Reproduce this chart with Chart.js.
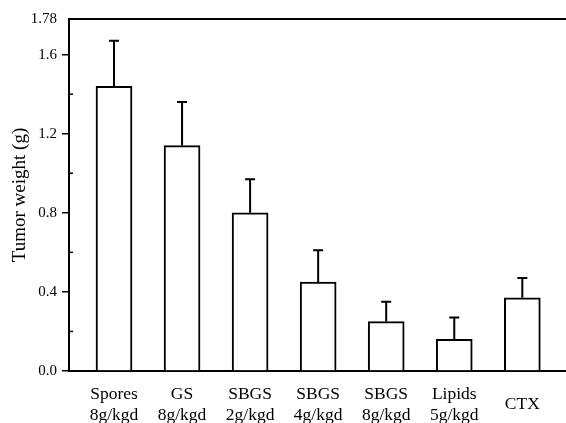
<!DOCTYPE html>
<html>
<head>
<meta charset="utf-8">
<script src="https://cdn.jsdelivr.net/npm/chart.js@4/dist/chart.umd.min.js"></script>
<style>
  body { margin: 0; background: #fff; }
  #wrap { width: 566px; height: 423px; }
</style>
</head>
<body>
<div id="wrap"><canvas id="chart"></canvas></div>
<script>
// groups and measured tumor weight (g), upper error bar
const groups = [
  ['Spores', '8g/kgd'],
  ['GS', '8g/kgd'],
  ['SBGS', '2g/kgd'],
  ['SBGS', '4g/kgd'],
  ['SBGS', '8g/kgd'],
  ['Lipids', '5g/kgd'],
  ['CTX']
];
const weights = [1.44, 1.14, 0.80, 0.45, 0.25, 0.16, 0.37];
const errors = [0.23, 0.22, 0.17, 0.16, 0.10, 0.11, 0.10];

const yTicks = [0, 0.4, 0.8, 1.2, 1.6, 1.78];
const yTickLabels = ['0.0', '0.4', '0.8', '1.2', '1.6', '1.78'];
const yMinorTicks = [0.2, 0.6, 1.0, 1.4];

const serif = 'Liberation Serif';

// error bars + minor ticks pointing inward
const extras = {
  id: 'extras',
  afterDatasetsDraw(chart) {
    const ctx = chart.ctx;
    const x = chart.scales.x;
    const y = chart.scales.y;
    ctx.save();
    ctx.strokeStyle = '#000';
    ctx.lineWidth = 2;
    weights.forEach((w, i) => {
      const px = x.getPixelForValue(i + 1);
      const top = y.getPixelForValue(w + errors[i]);
      ctx.beginPath();
      ctx.moveTo(px, y.getPixelForValue(w));
      ctx.lineTo(px, top);
      ctx.moveTo(px - 5, top);
      ctx.lineTo(px + 5, top);
      ctx.stroke();
    });
    ctx.lineWidth = 1.5;
    yMinorTicks.forEach(v => {
      const py = y.getPixelForValue(v);
      ctx.beginPath();
      ctx.moveTo(chart.chartArea.left, py);
      ctx.lineTo(chart.chartArea.left + 4, py);
      ctx.stroke();
    });
    ctx.restore();
  }
};

new Chart(document.getElementById('chart'), {
  type: 'bar',
  data: {
    datasets: [{
      data: weights.map((w, i) => ({ x: i + 1, y: w })),
      backgroundColor: '#fff',
      borderColor: '#000',
      borderWidth: 2,
      borderSkipped: 'bottom',
      barThickness: 36
    }]
  },
  options: {
    responsive: true,
    maintainAspectRatio: false,
    animation: false,
    layout: { padding: 0 },
    plugins: { legend: { display: false }, tooltip: { enabled: false } },
    scales: {
      x: {
        type: 'linear',
        position: 'bottom',
        offset: false,
        min: 0.3387,
        max: 7.642,
        afterBuildTicks: s => { s.ticks = groups.map((g, i) => ({ value: i + 1 })); },
        afterFit: s => { s.height = 52; },
        grid: { display: false, drawTicks: false, offset: false },
        border: { display: true, color: '#000', width: 2 },
        ticks: {
          color: '#000',
          font: { family: serif, size: 17.5, lineHeight: 1.22 },
          padding: 23,
          crossAlign: 'center',
          maxRotation: 0,
          autoSkip: false,
          callback: v => groups[Math.round(v) - 1] || ''
        }
      },
      x2: {
        type: 'linear',
        position: 'top',
        afterFit: s => { s.height = 19; },
        grid: { display: false, drawTicks: false },
        border: { display: true, color: '#000', width: 2 },
        ticks: { display: false }
      },
      y: {
        min: 0,
        max: 1.78,
        afterBuildTicks: s => { s.ticks = yTicks.map(v => ({ value: v })); },
        afterFit: s => { s.width = 69; },
        grid: {
          drawOnChartArea: false,
          drawTicks: true,
          tickLength: 7,
          lineWidth: 1.5,
          color: c => (c.tick && c.tick.value === 1.78 ? 'rgba(0,0,0,0)' : '#000')
        },
        border: { display: true, color: '#000', width: 2 },
        ticks: {
          color: '#000',
          padding: 5,
          font: { family: serif, size: 15 },
          callback: (v, i) => yTickLabels[i]
        },
        title: {
          display: true,
          text: 'Tumor weight (g)',
          color: '#000',
          font: { family: serif, size: 19, lineHeight: 1.2 },
          padding: { top: 9, bottom: 0 }
        }
      }
    }
  },
  plugins: [extras]
});
</script>
</body>
</html>
